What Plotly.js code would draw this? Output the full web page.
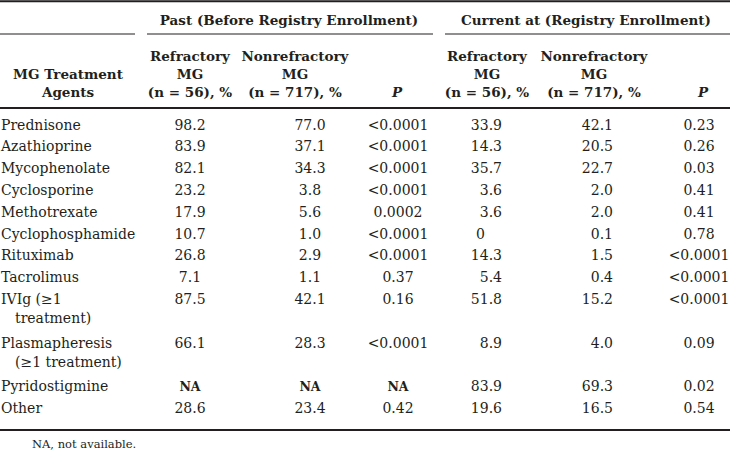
<!DOCTYPE html>
<html>
<head>
<meta charset="utf-8">
<script src="https://cdn.plot.ly/plotly-3.0.1.min.js"></script>
<style>html,body{margin:0;padding:0;background:#fff;}#chart{width:730px;height:458px;}</style>
</head>
<body>
<div id="chart"></div>
<script>
// ---------- DATA ----------
const agents = ["Prednisone","Azathioprine","Mycophenolate","Cyclosporine","Methotrexate","Cyclophosphamide","Rituximab","Tacrolimus","IVIg (≥1<br>treatment)","Plasmapheresis<br>(≥1 treatment)","Pyridostigmine","Other"];
const pastRefractory    = [98.2, 83.9, 82.1, 23.2, 17.9, 10.7, 26.8, 7.1, 87.5, 66.1, null, 28.6];
const pastNonrefractory = [77.0, 37.1, 34.3, 3.8, 5.6, 1.0, 2.9, 1.1, 42.1, 28.3, null, 23.4];
const pastP             = ["<0.0001","<0.0001","<0.0001","<0.0001","0.0002","<0.0001","<0.0001","0.37","0.16","<0.0001","NA","0.42"];
const currentRefractory    = [33.9, 14.3, 35.7, 3.6, 3.6, 0, 14.3, 5.4, 51.8, 8.9, 83.9, 19.6];
const currentNonrefractory = [42.1, 20.5, 22.7, 2.0, 2.0, 0.1, 1.5, 0.4, 15.2, 4.0, 69.3, 16.5];
const currentP             = ["0.23","0.26","0.03","0.41","0.41","0.78","<0.0001","<0.0001","<0.0001","0.09","0.02","0.54"];
const groupHeaders = ["Past (Before Registry Enrollment)", "Current at (Registry Enrollment)"];
const colHeaders = ["MG Treatment<br>Agents", "Refractory<br>MG<br>(n = 56), %", "Nonrefractory<br>MG<br>(n = 717), %", "<i>P</i>",
                    "Refractory<br>MG<br>(n = 56), %", "Nonrefractory<br>MG<br>(n = 717), %", "<i>P</i>"];
const footnote = "NA, not available.";

// ---------- LAYOUT / STYLE ----------
const W = 730, H = 458;
const FONT = "DejaVu Serif, Liberation Serif, serif";
const INK = "#231f20";
const bodySize = 14, headSize = 13.5;
const firstBase = 129.5, lineStep = 21.8, contStep = 19.5;
const headBaseLast = 97, headStep = 18;
const headerX = [68, 190, 295, 397, 487, 594, 703];
const groupX = [289, 586];

function fmt(v){ if(v===null) return "NA"; if(v===0) return "0"; return v.toFixed(1); }
function yFromBase(b, f){ return b - 0.25*f; }

// row line starts
const lineStart = [];
let acc = 0;
agents.forEach(a => { lineStart.push(acc); acc += a.split("<br>").length; });
const rowBase = lineStart.map(l => firstBase + l*lineStep);

const traces = [];
function textTrace(xs, ys, texts, pos, size, bold){
  traces.push({type:"scatter", mode:"text", x:xs, y:ys, text:texts, textposition:pos,
    textfont:{family:FONT, size:size, color:INK, weight: bold ? 700 : 400}, hoverinfo:"skip", cliponaxis:false});
}
function valueTrace(xs, ys, texts, pos){
  // NA entries drawn bold and slightly smaller
  traces.push({type:"scatter", mode:"text", x:xs, y:ys, text:texts, textposition:pos,
    textfont:{family:FONT, color:INK,
      size: texts.map(t => t==="NA" ? 12.5 : bodySize),
      weight: texts.map(t => t==="NA" ? 700 : 400)},
    hoverinfo:"skip", cliponaxis:false});
}

// first column (agent names), split into lines
{
  const xs=[], ys=[], tx=[];
  agents.forEach((a,i)=>{
    a.split("<br>").forEach((ln,k)=>{
      xs.push(k===0 ? 1 : 15);
      ys.push(yFromBase(rowBase[i] + k*contStep, bodySize));
      tx.push(ln);
    });
  });
  textTrace(xs, ys, tx, "middle right", bodySize, false);
}
const ysBody = rowBase.map(b => yFromBase(b, bodySize));
// Past columns (centered)
valueTrace(agents.map(()=>190), ysBody, pastRefractory.map(fmt), "middle center");
valueTrace(agents.map(()=>310), ysBody, pastNonrefractory.map(fmt), "middle center");
valueTrace(agents.map(()=>398), ysBody, pastP, "middle center");
// Current columns (right aligned numbers)
valueTrace(currentRefractory.map(v => v===0 ? 476 : 502), ysBody, currentRefractory.map(fmt),
           currentRefractory.map(v => v===0 ? "middle right" : "middle left"));
valueTrace(agents.map(()=>613), ysBody, currentNonrefractory.map(fmt), "middle left");
valueTrace(agents.map(()=>699), ysBody, currentP, "middle center");

// headers
{
  const xs=[], ys=[], tx=[];
  colHeaders.forEach((h,c)=>{
    const lines = h.split("<br>");
    lines.forEach((ln,k)=>{
      xs.push(headerX[c]);
      ys.push(yFromBase(headBaseLast - (lines.length-1-k)*headStep, headSize));
      tx.push(ln);
    });
  });
  groupHeaders.forEach((g,i)=>{ xs.push(groupX[i]); ys.push(yFromBase(25, headSize)); tx.push(g); });
  textTrace(xs, ys, tx, "middle center", headSize, true);
}
const lastBase = rowBase[rowBase.length-1];
const bottomRuleY = lastBase + 17;
// footnote
textTrace([32], [yFromBase(bottomRuleY + 18, 11.5)], [footnote], "middle right", 11.5, false);

const line = (x0,x1,y,w) => ({type:"line", xref:"x", yref:"y", x0:x0, x1:x1, y0:y, y1:y, line:{color:INK, width:w}});
const shapes = [
  line(0, W, 1.2, 2),
  line(0, 135, 34, 1.2), line(147, 433, 34, 1.2), line(445, W, 34, 1.2),
  line(0, W, 108, 2),
  line(0, W, bottomRuleY, 2)
];

const layout = {
  width:W, height:H, margin:{l:0,r:0,t:0,b:0,pad:0},
  paper_bgcolor:"#fff", plot_bgcolor:"#fff", showlegend:false,
  xaxis:{range:[0,W], visible:false, fixedrange:true},
  yaxis:{range:[H,0], visible:false, fixedrange:true},
  shapes:shapes
};
Plotly.newPlot("chart", traces, layout, {staticPlot:true, displayModeBar:false});
</script>
</body>
</html>
